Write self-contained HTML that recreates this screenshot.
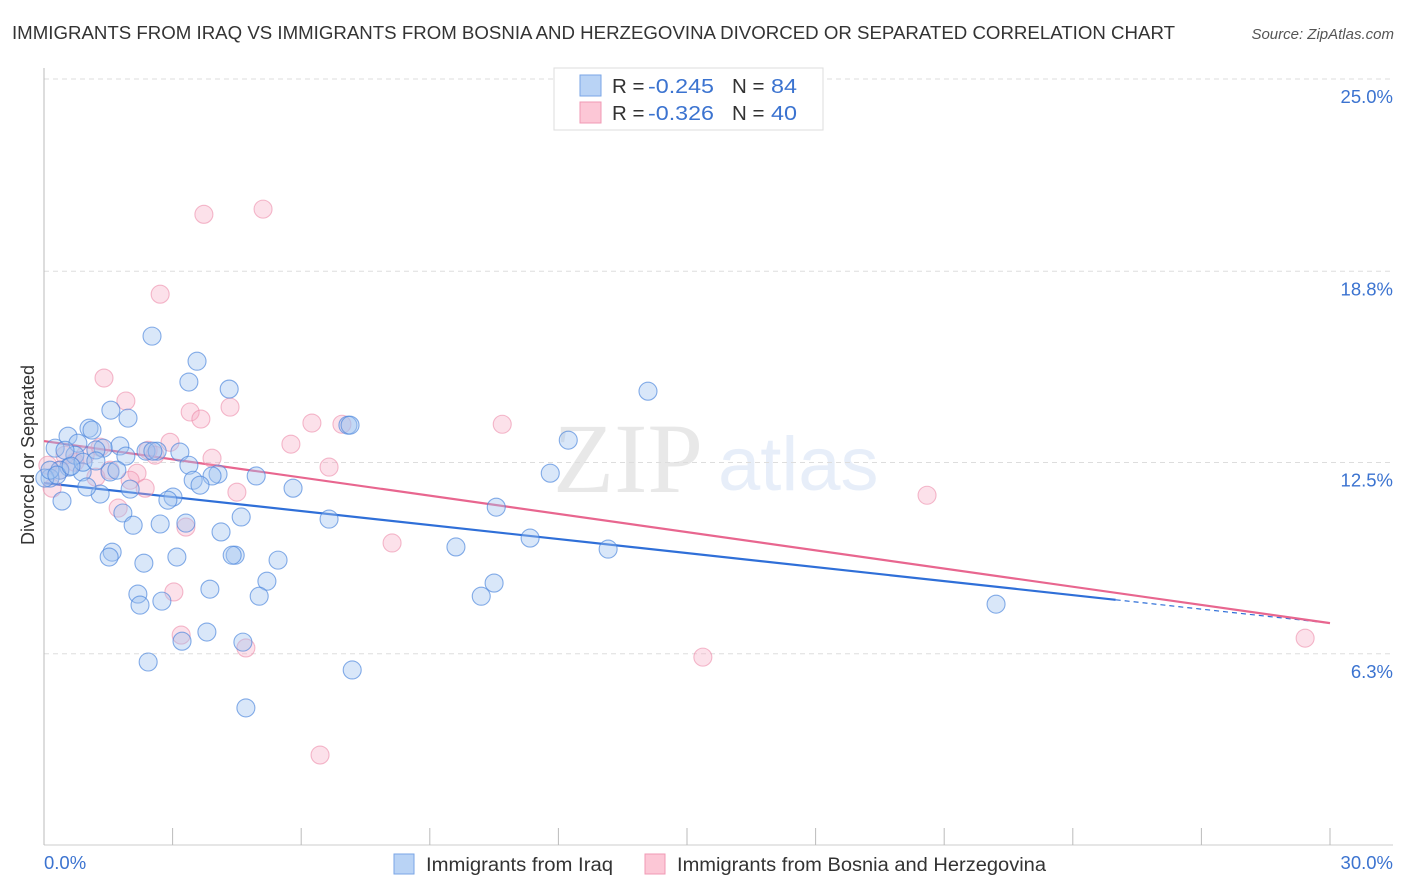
<!DOCTYPE html>
<html><head><meta charset="utf-8"><style>
body{margin:0;background:#fff;font-family:"Liberation Sans",sans-serif}
svg{display:block}
</style></head><body>
<svg id="chart" width="1406" height="892" viewBox="0 0 1406 892">
<text x="12" y="39" font-size="18" fill="#333" textLength="1163" lengthAdjust="spacingAndGlyphs">IMMIGRANTS FROM IRAQ VS IMMIGRANTS FROM BOSNIA AND HERZEGOVINA DIVORCED OR SEPARATED CORRELATION CHART</text>
<text x="1394" y="39" font-size="15" fill="#555" font-style="italic" text-anchor="end">Source: ZipAtlas.com</text>
<g opacity="0.16">
<text x="553" y="492" font-family="Liberation Serif,serif" font-size="100" fill="#777">ZIP</text>
<text x="718" y="490" font-size="76" fill="#6d9be0">atlas</text>
</g>
<g id="grid"></g>
<g id="axes"></g>
<g id="lines"></g>
<g id="pts"></g>
<text transform="translate(34,455) rotate(-90)" font-size="18" fill="#333" text-anchor="middle">Divorced or Separated</text>
<g>
<rect x="554" y="68" width="269" height="62" fill="#fff" stroke="#ddd"/>
<rect x="580" y="75" width="21" height="21" fill="#b9d3f5" stroke="#7aa6e6"/>
<rect x="580" y="102" width="21" height="21" fill="#fcc7d6" stroke="#f09ab4"/>
<text x="612" y="93" font-size="20.5" fill="#333">R = <tspan x="648" fill="#3b73d0" textLength="66" lengthAdjust="spacingAndGlyphs">-0.245</tspan><tspan x="732">N = </tspan><tspan x="771" fill="#3b73d0" textLength="26" lengthAdjust="spacingAndGlyphs">84</tspan></text>
<text x="612" y="120" font-size="20.5" fill="#333">R = <tspan x="648" fill="#3b73d0" textLength="66" lengthAdjust="spacingAndGlyphs">-0.326</tspan><tspan x="732">N = </tspan><tspan x="771" fill="#3b73d0" textLength="26" lengthAdjust="spacingAndGlyphs">40</tspan></text>
</g>
<g>
<rect x="394" y="854" width="20" height="20" fill="#b9d3f5" stroke="#7aa6e6"/>
<text x="426" y="871" font-size="19" fill="#333" textLength="187" lengthAdjust="spacingAndGlyphs">Immigrants from Iraq</text>
<rect x="645" y="854" width="20" height="20" fill="#fcc7d6" stroke="#f09ab4"/>
<text x="677" y="871" font-size="19" fill="#333" textLength="369" lengthAdjust="spacingAndGlyphs">Immigrants from Bosnia and Herzegovina</text>
</g>
</svg>
<script>
const yTicks=[6.3,12.5,18.8,25.0];
const yTickLabels=["6.3%","12.5%","18.8%","25.0%"];
const xTickLabels=["0.0%","30.0%"];
const iraqX=[2.52,3.57,3.38,4.32,14.09,1.56,1.96,1.05,7.09,0.56,1.12,12.23,0.79,1.77,1.38,0.26,2.38,2.64,3.17,1.21,1.91,3.38,0.58,0.89,0.37,0.14,4.06,4.95,11.81,3.48,3.92,3.64,2.01,1.31,1.00,5.81,3.01,2.89,0.42,10.55,1.84,4.60,6.65,3.31,2.08,2.71,11.34,4.13,9.61,13.16,1.59,1.52,3.10,4.46,4.39,5.46,2.33,5.20,10.50,3.87,2.19,10.20,5.02,2.24,2.75,22.21,3.80,3.22,4.64,2.43,7.19,4.71,0.02,0.14,0.30,0.72,0.49,1.54,0.91,2.54,7.14,1.70,1.21,0.63];
const iraqY=[16.63,15.81,15.13,14.90,14.83,14.21,13.95,13.62,13.72,13.36,13.56,13.23,13.13,13.04,12.97,12.97,12.87,12.87,12.84,12.91,12.71,12.41,12.35,12.19,12.25,11.99,12.12,12.06,12.15,11.92,12.06,11.76,11.63,11.47,11.70,11.66,11.37,11.27,11.24,11.04,10.85,10.72,10.65,10.52,10.45,10.49,10.03,10.23,9.74,9.67,9.57,9.41,9.41,9.47,9.47,9.31,9.21,8.62,8.56,8.36,8.20,8.13,8.13,7.84,7.97,7.87,6.96,6.66,6.63,5.98,5.72,4.48,11.99,12.25,12.09,12.74,12.90,12.19,12.51,12.87,13.72,12.25,12.55,12.38];
const bosX=[3.73,5.11,2.71,1.40,1.91,4.34,3.41,3.66,6.25,6.95,10.69,5.76,2.94,2.43,3.92,6.65,2.17,1.21,0.19,4.50,8.12,20.60,1.73,3.31,3.03,3.20,4.71,15.37,6.44,29.42,1.31,0.37,0.72,0.96,0.09,2.01,2.36,0.49,1.54,2.59];
const bosY=[20.61,20.78,18.00,15.26,14.51,14.31,14.15,13.92,13.79,13.75,13.75,13.10,13.16,12.90,12.64,12.35,12.15,12.02,11.66,11.53,9.87,11.43,11.01,10.39,8.27,6.86,6.44,6.14,2.94,6.76,13.00,12.25,12.51,12.74,12.41,11.92,11.66,12.74,12.25,12.74];
const iraqTrend=[11.83,7.25];
const bosTrend=[13.20,7.25];
const NS="http://www.w3.org/2000/svg";
const X0=44,X1=1330,Y0=845,Ytop=80;
const sx=v=>X0+(v/30)*(X1-X0);
const sy=v=>Y0-(v/25)*(Y0-Ytop);
function mk(tag,attrs,parent){const e=document.createElementNS(NS,tag);for(const k in attrs)e.setAttribute(k,attrs[k]);parent.appendChild(e);return e;}
const grid=document.getElementById('grid'),axes=document.getElementById('axes');
yTicks.forEach((t,i)=>{
 const y=t===25?79:sy(t===6.3?6.25:t===18.8?18.75:t);
 const l=mk('line',{x1:44,x2:1393,y1:y,y2:y,stroke:'#ddd','stroke-dasharray':'5,4'},grid);
 
 
 const tx=mk('text',{x:1393,y:y+24,'font-size':18.5,fill:'#3b73d0','text-anchor':'end'},axes);
 tx.textContent=yTickLabels[i];
 
 
});
mk('line',{x1:44,x2:44,y1:68,y2:845,stroke:'#bbb'},axes);
mk('line',{x1:44,x2:1393,y1:845,y2:845,stroke:'#ccc'},axes);
for(let k=0;k<=10;k++){const x=sx(k*3);const t=mk('line',{x1:x,x2:x,y1:828,y2:845,stroke:'#bbb'},axes);
 
 }
const xl0=mk('text',{x:44,y:869,'font-size':18.5,fill:'#3b73d0'},axes);xl0.textContent=xTickLabels[0];


const xl1=mk('text',{x:1393,y:869,'font-size':18.5,fill:'#3b73d0','text-anchor':'end'},axes);xl1.textContent=xTickLabels[1];


const pts=document.getElementById('pts');
bosX.forEach((v,i)=>{const c=mk('circle',{cx:sx(v),cy:sy(bosY[i]),r:9,fill:'rgba(247,170,195,0.35)',stroke:'rgba(236,140,170,0.6)','stroke-width':1.1},pts);
 
 });
iraqX.forEach((v,i)=>{const c=mk('circle',{cx:sx(v),cy:sy(iraqY[i]),r:9,fill:'rgba(160,195,240,0.4)',stroke:'rgba(70,130,220,0.65)','stroke-width':1.1},pts);
 
 });
const lines=document.getElementById('lines');
const ty=(tr,x)=>tr[0]+(tr[1]-tr[0])*x/30;
const b1=mk('line',{x1:sx(0),y1:sy(ty(iraqTrend,0)),x2:sx(25),y2:sy(ty(iraqTrend,25)),stroke:'#2f6fd8','stroke-width':2.2},lines);


const b2=mk('line',{x1:sx(25),y1:sy(ty(iraqTrend,25)),x2:sx(30),y2:sy(ty(iraqTrend,30)),stroke:'#2f6fd8','stroke-width':1.2,'stroke-dasharray':'5,4'},lines);


const p1=mk('line',{x1:sx(0),y1:sy(ty(bosTrend,0)),x2:sx(30),y2:sy(ty(bosTrend,30)),stroke:'#e8668f','stroke-width':2.2},lines);


</script>
</body></html>
